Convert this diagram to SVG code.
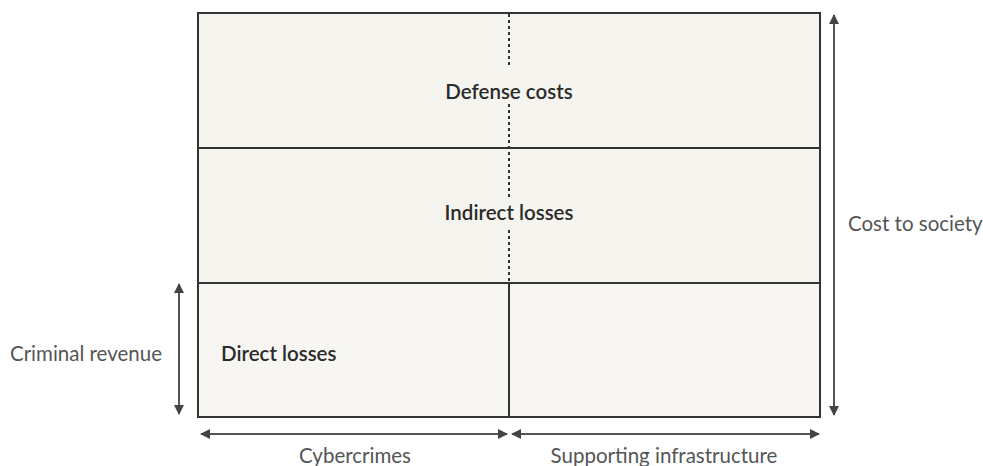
<svg xmlns="http://www.w3.org/2000/svg" width="983" height="466" viewBox="0 0 983 466">
<style>
.box{fill:#f6f4ee;stroke:#333;stroke-width:2}
.in{font-family:Lato,"Liberation Sans",sans-serif;font-size:20.5px;font-weight:600;fill:#2b2b2b}
.out{font-family:Lato,"Liberation Sans",sans-serif;font-size:20.5px;fill:#555}
.arr{stroke:#555;stroke-width:2;fill:none;marker-start:url(#ah);marker-end:url(#ah)}
.dot{stroke:#333;stroke-width:2;stroke-dasharray:3 3;fill:none}
</style>
<defs>
<marker id="ah" viewBox="0 0 10 10" refX="9" refY="5" markerWidth="5" markerHeight="5" orient="auto-start-reverse" markerUnits="strokeWidth">
<path d="M0,0 L10,5 L0,10 z" fill="#444"/>
</marker>
</defs>
<rect width="983" height="466" fill="#fff"/>
<g id="defense">
<rect class="box" x="198" y="13" width="622" height="135"/>
</g>
<g id="indirect">
<rect class="box" x="198" y="148" width="622" height="135"/>
</g>
<g id="direct">
<rect class="box" x="198" y="283" width="311" height="134" style="fill:#f8f6f2"/>
</g>
<g id="infra">
<rect class="box" x="509" y="283" width="311" height="134" style="fill:#f8f6f2"/>
</g>
<g id="connectors">
<line class="dot" x1="509" y1="14" x2="509" y2="283"/>
<line class="arr" x1="834" y1="15" x2="834" y2="415"/>
<line class="arr" x1="179" y1="284" x2="179" y2="414"/>
<line class="arr" x1="201" y1="434" x2="507" y2="434"/>
<line class="arr" x1="512" y1="434" x2="819" y2="434"/>
</g>
<g id="labels">
<rect x="440" y="67" width="138" height="37" fill="#f6f4ee"/>
<text class="in" x="509" y="99" text-anchor="middle">Defense costs</text>
<rect x="437" y="198" width="144" height="31" fill="#f6f4ee"/>
<text class="in" x="509" y="220" text-anchor="middle">Indirect losses</text>
<text class="in" x="221" y="361">Direct losses</text>
<text class="out" x="10" y="361">Criminal revenue</text>
<text class="out" x="848" y="231">Cost to society</text>
<text class="out" x="355" y="463" text-anchor="middle">Cybercrimes</text>
<text class="out" x="664" y="463" text-anchor="middle">Supporting infrastructure</text>
</g>
</svg>
